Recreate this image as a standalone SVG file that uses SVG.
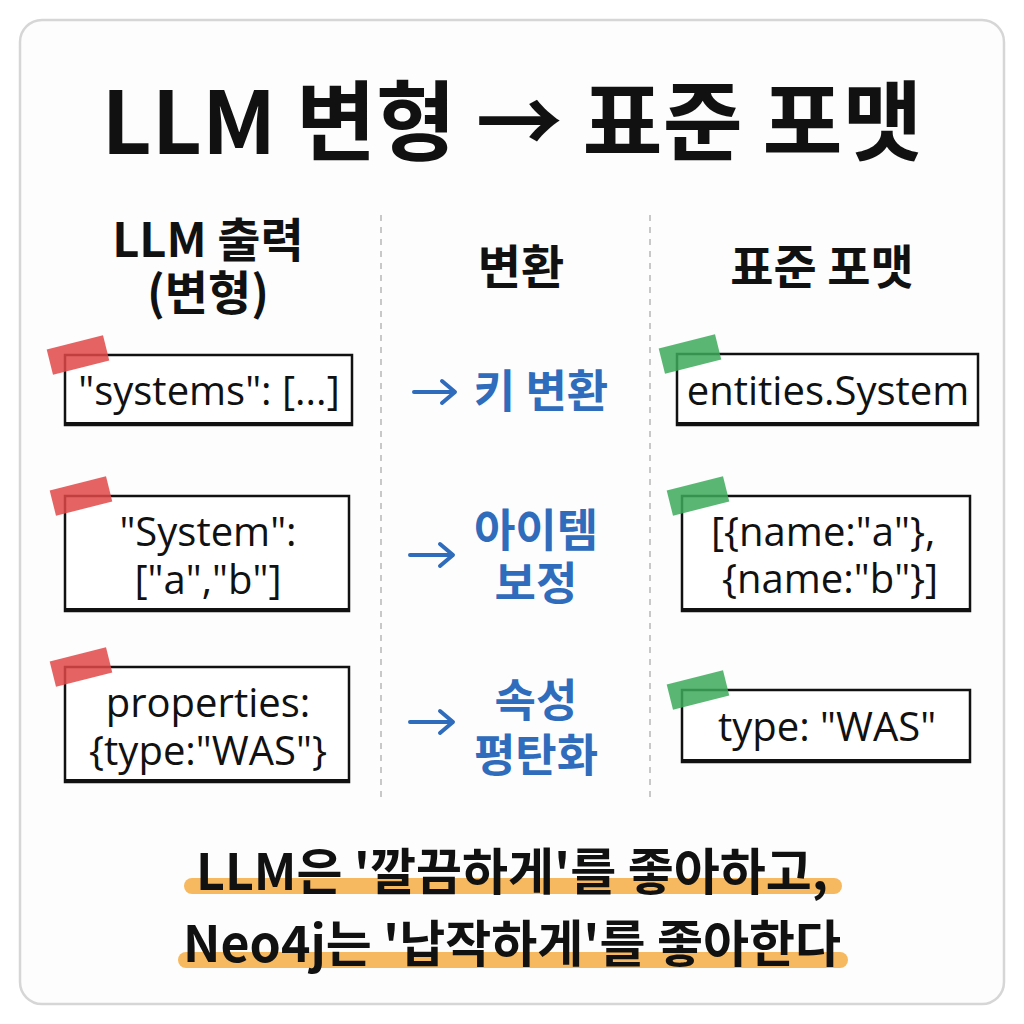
<svg xmlns="http://www.w3.org/2000/svg" width="1024" height="1024" viewBox="0 0 1024 1024">
<style>
.kr{font-family:"Noto Sans CJK KR","Noto Sans",sans-serif;font-weight:700;fill:#111}
.code{font-family:"Open Sans","Noto Sans","Noto Sans CJK KR",sans-serif;font-weight:400;fill:#111;font-size:40px}
.blue{font-family:"Noto Sans CJK KR","Noto Sans",sans-serif;font-weight:700;fill:#2f6cbc;font-size:45px}
.box{fill:#fff;stroke:#111;stroke-width:2.5}
.bot{stroke:#111;stroke-width:4;stroke-linecap:round}
.tr{fill:#e04848;opacity:0.85}
.tg{fill:#3daa5a;opacity:0.85}
.div{stroke:#c8c8c8;stroke-width:2;stroke-dasharray:6 6}
.arr{stroke:#2f6cbc;stroke-width:4;fill:none;stroke-linecap:round;stroke-linejoin:round}
.hl{stroke:#f7b24e;stroke-width:16;stroke-linecap:round;opacity:0.9}
</style>
<rect width="1024" height="1024" fill="#fff"/>
<rect x="20" y="20" width="984" height="984" rx="22" fill="#fdfdfd" stroke="#d6d6d6" stroke-width="2.5"/>
<text class="kr" x="512" y="154" font-size="87" text-anchor="middle">LLM 변형 → 표준 포맷</text>
<g id="headers">
<text class="kr" font-size="47" text-anchor="middle"><tspan x="208" y="257">LLM 출력</tspan><tspan x="208" y="310">(변형)</tspan></text>
<text class="kr" x="521" y="284" font-size="47" text-anchor="middle">변환</text>
<text class="kr" x="822" y="284" font-size="47" text-anchor="middle">표준 포맷</text>
</g>
<g id="dividers">
<line class="div" x1="381" y1="215" x2="381" y2="800"/>
<line class="div" x1="650" y1="215" x2="650" y2="800"/>
</g>
<g id="src1">
<rect class="box" x="65" y="355" width="287" height="70"/>
<line class="bot" x1="66" y1="424" x2="351" y2="424"/>
<rect class="tr" x="49" y="342" width="58" height="26" transform="rotate(-14 78 355)"/>
<text class="code" x="209" y="405" text-anchor="middle">"systems": [...]</text>
</g>
<g id="src2">
<rect class="box" x="65" y="496" width="284" height="115"/>
<line class="bot" x1="66" y1="610" x2="348" y2="610"/>
<rect class="tr" x="52" y="483" width="58" height="26" transform="rotate(-14 81 496)"/>
<text class="code" text-anchor="middle"><tspan x="208" y="546">"System":</tspan><tspan x="208" y="594">["a","b"]</tspan></text>
</g>
<g id="src3">
<rect class="box" x="65" y="667" width="284" height="115"/>
<line class="bot" x1="66" y1="781" x2="348" y2="781"/>
<rect class="tr" x="52" y="654" width="58" height="26" transform="rotate(-14 81 667)"/>
<text class="code" text-anchor="middle"><tspan x="208" y="717">properties:</tspan><tspan x="208" y="765">{type:"WAS"}</tspan></text>
</g>
<g id="connectors">
<path class="arr" d="M414 392 H454 M442 381 L455 392 L442 403"/>
<path class="arr" d="M410 555 H452 M440 544 L453 555 L440 566"/>
<path class="arr" d="M410 722 H452 M440 711 L453 722 L440 733"/>
</g>
<g id="t1"><text class="blue" x="541" y="408" text-anchor="middle">키 변환</text></g>
<g id="t2">
<text class="blue" text-anchor="middle"><tspan x="536" y="547">아이템</tspan><tspan x="536" y="600">보정</tspan></text>
</g>
<g id="t3">
<text class="blue" text-anchor="middle"><tspan x="536" y="717">속성</tspan><tspan x="536" y="772">평탄화</tspan></text>
</g>
<g id="dst1">
<rect class="box" x="677" y="354" width="301" height="71"/>
<line class="bot" x1="678" y1="424" x2="977" y2="424"/>
<rect class="tg" x="661" y="341" width="58" height="26" transform="rotate(-14 690 354)"/>
<text class="code" x="828" y="405" text-anchor="middle">entities.System</text>
</g>
<g id="dst2">
<rect class="box" x="682" y="496" width="288" height="115"/>
<line class="bot" x1="683" y1="610" x2="969" y2="610"/>
<rect class="tg" x="669" y="483" width="58" height="26" transform="rotate(-14 698 496)"/>
<text class="code"><tspan x="711" y="546">[{name:"a"},</tspan><tspan x="722" y="593">{name:"b"}]</tspan></text>
</g>
<g id="dst3">
<rect class="box" x="682" y="690" width="288" height="72"/>
<line class="bot" x1="683" y1="761" x2="969" y2="761"/>
<rect class="tg" x="669" y="677" width="58" height="26" transform="rotate(-14 698 690)"/>
<text class="code" x="827" y="741" text-anchor="middle">type: "WAS"</text>
</g>
<g id="footer">
<line class="hl" x1="192" y1="886" x2="834" y2="886"/>
<line class="hl" x1="186" y1="960" x2="840" y2="960"/>
<text class="kr" font-size="50" text-anchor="middle"><tspan x="512" y="890">LLM은 '깔끔하게'를 좋아하고,</tspan><tspan x="512" y="962">Neo4j는 '납작하게'를 좋아한다</tspan></text>
</g>
</svg>
